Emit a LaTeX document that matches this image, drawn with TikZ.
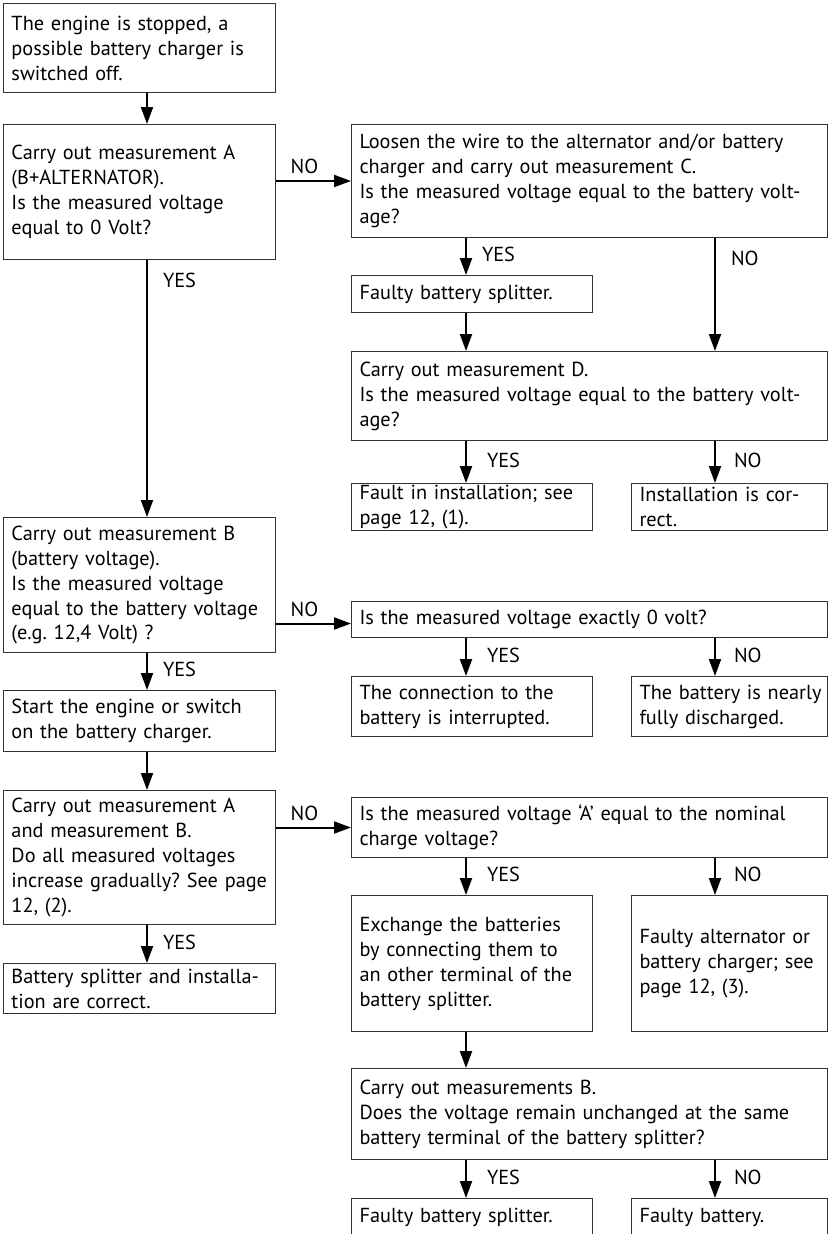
\documentclass[tikz,border=0pt]{standalone}
\usepackage{fontspec}
\setmainfont{PT Sans}
\usetikzlibrary{arrows.meta,calc}
\frenchspacing
\tikzset{
  box/.style={draw=black!80, line width=1pt, rectangle, anchor=north west, align=left,
    inner xsep=8pt, inner ysep=0pt, font=\fontsize{20.3}{25}\selectfont},
  arr/.style={line width=2pt, -{Triangle[length=17pt,width=12pt]}},
  lblr/.style={anchor=west, inner sep=0pt, font=\fontsize{20.3}{25}\selectfont},
  lbla/.style={above, inner sep=0pt, yshift=6pt, xshift=-9pt, font=\fontsize{20.3}{25}\selectfont},
}
\newcommand{\bx}[6]{% name, x1, y1, x2, y2, text
  \pgfmathsetmacro{\bw}{#4-#2}\pgfmathsetmacro{\bh}{#5-#3}\pgfmathsetmacro{\tw}{#4-#2-16}%
  \node[box, minimum width=\bw pt, minimum height=\bh pt, text width=\tw pt] (#1) at (#2,#3) {#6};}
\begin{document}
\begin{tikzpicture}[x=1pt,y=-1pt]
\clip (0,0) rectangle (828,1234);
\coordinate (cL) at (147,0);
\coordinate (cM) at (466,0);
\coordinate (cR) at (715,0);
% left column
\bx{b1}{3}{3}{275}{92}{The engine is stopped, a\\possible battery charger is\\switched off.}
\bx{b2}{3}{124}{275}{259}{Carry out measurement A\\(B+ALTERNATOR).\\Is the measured voltage\\equal to 0 Volt?}
\bx{bB}{3}{517}{275}{652}{Carry out measurement B\\(battery voltage).\\Is the measured voltage\\equal to the battery voltage\\(e.g. 12,4 Volt) ?}
\bx{start}{3}{690}{275}{751}{Start the engine or switch\\on the battery charger.}
\bx{bAB}{3}{790}{275}{924}{Carry out measurement A\\and measurement B.\\Do all measured voltages\\increase gradually? See page\\12, (2).}
\bx{ok}{3}{963}{275}{1013}{Battery splitter and installa-\\tion are correct.}
% right column
\bx{bC}{351}{124}{827}{237}{Loosen the wire to the alternator and/or battery\\charger and carry out measurement C.\\Is the measured voltage equal to the battery volt-\\age?}
\bx{fbs1}{351}{275}{592}{312}{Faulty battery splitter.}
\bx{bD}{351}{351}{827}{440}{Carry out measurement D.\\Is the measured voltage equal to the battery volt-\\age?}
\bx{fi}{351}{483}{592}{530}{Fault in installation; see\\page 12, (1).}
\bx{ic}{631}{483}{827}{530}{Installation is cor-\\rect.}
\bx{zero}{351}{601}{827}{637}{Is the measured voltage exactly 0 volt?}
\bx{conn}{351}{676}{592}{736}{The connection to the\\battery is interrupted.}
\bx{disc}{631}{676}{827}{736}{\mbox{The battery is nearly}\\fully discharged.}
\bx{nom}{351}{797}{827}{857}{Is the measured voltage ‘A’ equal to the nominal\\charge voltage?}
\bx{exch}{351}{895}{592}{1031}{Exchange the batteries\\by connecting them to\\an other terminal of the\\battery splitter.}
\bx{alt}{631}{895}{827}{1031}{Faulty alternator or\\battery charger; see\\page 12, (3).}
\bx{mb}{351}{1068}{827}{1159}{Carry out measurements B.\\Does the voltage remain unchanged at the same\\battery terminal of the battery splitter?}
\bx{fbs2}{351}{1198}{592}{1236}{Faulty battery splitter.}
\bx{fb}{631}{1198}{827}{1236}{Faulty battery.}
% left connectors
\draw[arr] (b1.south -| cL) -- (b2.north -| cL);
\draw[arr] (b2.south -| cL) -- node[lblr, pos=0.08, xshift=15pt] (l1) {YES} (bB.north -| cL);
\draw[arr] (bB.south -| cL) -- node[lblr, midway, xshift=15pt, yshift=2pt] (l2) {YES} (start.north -| cL);
\draw[arr] (start.south -| cL) -- (bAB.north -| cL);
\draw[arr] (bAB.south -| cL) -- node[lblr, midway, xshift=15pt, yshift=2pt] (l3) {YES} (ok.north -| cL);
% horizontal connectors
\draw[arr] (b2.east |- bC.west) -- node[lbla, midway] (l4) {NO} (bC.west);
\draw[arr] ([yshift=-4pt]bB.east |- zero.west) -- node[lbla, midway] (l5) {NO} ([yshift=-4pt]zero.west);
\draw[arr] (bAB.east |- nom.west) -- node[lbla, midway] (l6) {NO} (nom.west);
% right connectors
\draw[arr] (bC.south -| cM) -- node[lblr, midway, xshift=15pt, yshift=2pt] (l7) {YES} (fbs1.north -| cM);
\draw[arr] (bC.south -| cR) -- node[lblr, pos=0.18, xshift=15pt] (l8) {NO} (bD.north -| cR);
\draw[arr] (fbs1.south -| cM) -- (bD.north -| cM);
\draw[arr] (bD.south -| cM) -- node[lblr, midway, xshift=20pt, yshift=2pt] (l9) {YES} (fi.north -| cM);
\draw[arr] (bD.south -| cR) -- node[lblr, midway, xshift=18pt, yshift=2pt] (l10) {NO} (ic.north -| cR);
\draw[arr] (zero.south -| cM) -- node[lblr, midway, xshift=20pt, yshift=2pt] (l11) {YES} (conn.north -| cM);
\draw[arr] (zero.south -| cR) -- node[lblr, midway, xshift=18pt, yshift=2pt] (l12) {NO} (disc.north -| cR);
\draw[arr] (nom.south -| cM) -- node[lblr, midway, xshift=20pt, yshift=2pt] (l13) {YES} (exch.north -| cM);
\draw[arr] (nom.south -| cR) -- node[lblr, midway, xshift=18pt, yshift=2pt] (l14) {NO} (alt.north -| cR);
\draw[arr] (exch.south -| cM) -- (mb.north -| cM);
\draw[arr] (mb.south -| cM) -- node[lblr, midway, xshift=20pt, yshift=2pt] (l15) {YES} (fbs2.north -| cM);
\draw[arr] (mb.south -| cR) -- node[lblr, midway, xshift=18pt, yshift=2pt] (l16) {NO} (fb.north -| cR);
\end{tikzpicture}
\end{document}
